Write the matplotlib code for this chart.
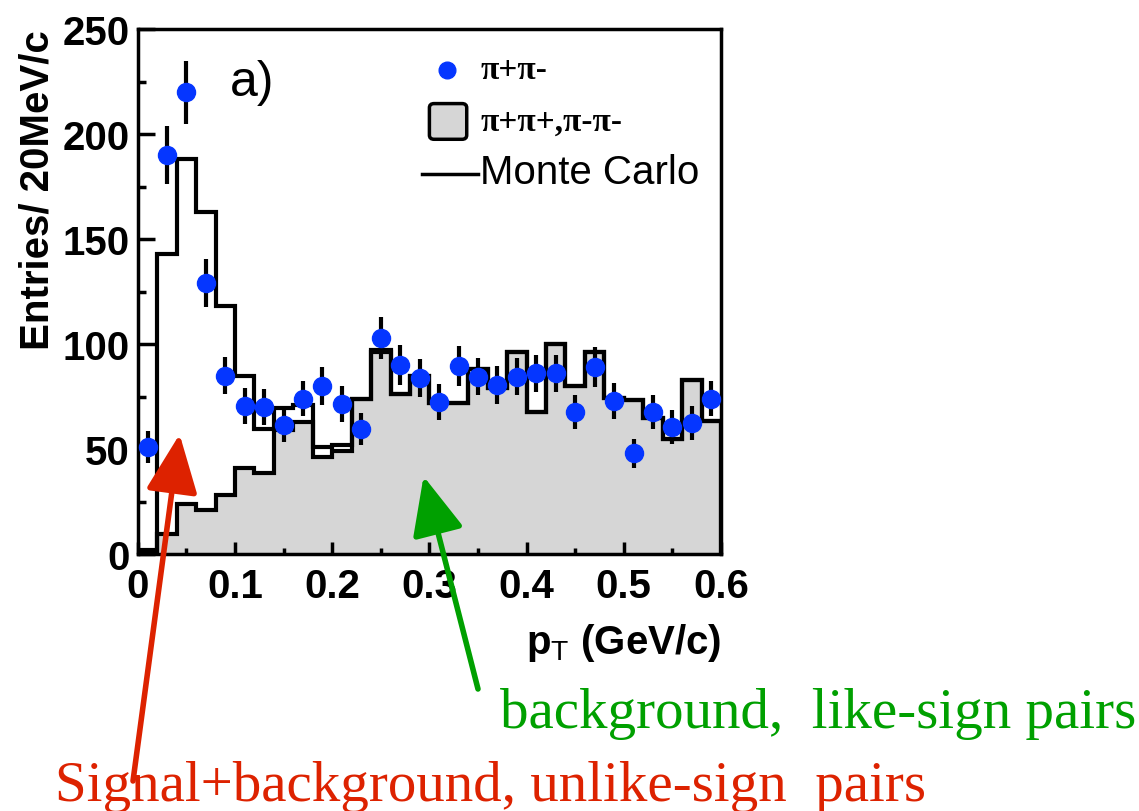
import numpy as np
import matplotlib
matplotlib.use("Agg")
import matplotlib.pyplot as plt
from matplotlib.lines import Line2D
from matplotlib.patches import FancyBboxPatch

# pT bins, 20 MeV/c wide
edges = np.linspace(0.0, 0.6, 31)

# like-sign pairs (grey histogram)
like_sign = [0, 9.5, 24, 21, 28, 41, 38.5, 59, 63, 46,
             49, 74, 96, 76, 85, 72, 72, 88, 79, 96,
             67.5, 100, 80, 96, 74.5, 73.5, 65, 55, 83, 63.5]

# Monte Carlo (black outline)
monte_carlo = [2, 143, 188, 163, 118, 85, 59.5, 69.5, 71, 51,
               52, 74, 97, 76, 85, 72, 72, 88, 79, 96,
               67.5, 100, 80, 96, 74.5, 73.5, 65, 55, 83, 63.5]

# unlike-sign pairs (data points)
pt_centres = [0.01, 0.03, 0.05, 0.07, 0.09, 0.11, 0.13, 0.15, 0.17, 0.19,
              0.21, 0.23, 0.25, 0.27, 0.29, 0.31, 0.33, 0.35, 0.37, 0.39,
              0.41, 0.43, 0.45, 0.47, 0.49, 0.51, 0.53, 0.55, 0.57, 0.59]
unlike_sign = [51, 190, 220, 129, 85, 70.5, 70, 61.5, 74, 80,
               71.5, 59.5, 103, 90, 84, 72.5, 89.5, 84.5, 80.5, 84.5,
               86, 86, 67.5, 89, 73, 48, 67.5, 60.5, 62.5, 74]
unlike_err = [7.5, 14, 15, 11.5, 9, 8.5, 8.5, 8, 8.5, 9,
              8.5, 7.5, 10, 9.5, 9, 8.5, 9.5, 9, 9, 9,
              9, 9, 8, 9.5, 8.5, 7, 8, 8, 8, 8.5]

BLUE = "#0536ff"
GREY = "#d6d6d6"
RED = "#dd2200"
GREEN = "#00a000"

plt.rcParams['font.family'] = ['Liberation Sans', 'DejaVu Sans']
plt.rcParams['mathtext.fontset'] = 'custom'
plt.rcParams['mathtext.rm'] = 'Liberation Sans'

fig = plt.figure(figsize=(11.39, 8.12), dpi=100)
ax = fig.add_axes([0.121, 0.3165, 0.512, 0.6465])

ax.stairs(like_sign, edges, fill=True, color=GREY, zorder=1)
ax.stairs(like_sign, edges, color="black", lw=3, baseline=0, zorder=2)
ax.stairs(monte_carlo, edges, color="black", lw=3, zorder=3)
ax.errorbar(pt_centres, unlike_sign, yerr=unlike_err, fmt="o", color=BLUE,
            ms=13, ecolor="black", elinewidth=3, capsize=0, zorder=4)

ax.set_xlim(0, 0.6)
ax.set_ylim(0, 250)
ax.set_xticks(np.arange(0, 0.61, 0.1))
ax.set_xticklabels(["0", "0.1", "0.2", "0.3", "0.4", "0.5", "0.6"])
ax.set_xticks(np.arange(0.05, 0.6, 0.1), minor=True)
ax.set_yticks(np.arange(0, 251, 50))
ax.set_yticks(np.arange(25, 250, 50), minor=True)
ax.tick_params(axis="both", which="both", direction="in", width=2.5,
               labelsize=29, top=False, right=False)
ax.tick_params(axis="y", which="major", length=12, pad=6)
ax.tick_params(axis="y", which="minor", length=6)
ax.tick_params(axis="x", which="major", length=9, pad=9)
ax.tick_params(axis="x", which="minor", length=4)
for lab in ax.get_xticklabels() + ax.get_yticklabels():
    lab.set_fontweight("bold")
for sp in ax.spines.values():
    sp.set_linewidth(2.5)

ax.set_ylabel("Entries/ 20MeV/c", fontsize=29, fontweight="bold", loc="top", labelpad=4)
ax.set_xlabel(r"p$_{\rm T}$ (GeV/c)", fontsize=29, fontweight="bold", loc="right", labelpad=12)

ax.text(0.158, 0.90, "a)", transform=ax.transAxes, fontsize=36, va="center", ha="left")

# legend drawn by hand
ax.add_line(Line2D([0.530], [0.922], transform=ax.transAxes, marker="o",
                   color=BLUE, ms=12, ls="none"))
ax.text(0.587, 0.922, "π+π-", transform=ax.transAxes, fontsize=24,
        family="Liberation Serif", fontweight="bold", va="center")
ax.add_patch(FancyBboxPatch((0.500, 0.790), 0.064, 0.068, transform=ax.transAxes,
                            boxstyle="round,pad=0,rounding_size=0.008",
                            facecolor=GREY, edgecolor="black", lw=2.5))
ax.text(0.587, 0.825, "π+π+,π-π-", transform=ax.transAxes, fontsize=24,
        family="Liberation Serif", fontweight="bold", va="center")
ax.add_line(Line2D([0.487, 0.583], [0.724, 0.724], transform=ax.transAxes,
                   color="black", lw=2.5))
ax.text(0.587, 0.728, "Monte Carlo", transform=ax.transAxes, fontsize=29, va="center")

# annotation arrows and captions
arrow_style = "-|>,head_length=0.9,head_width=0.4"
ax.annotate("", xy=(0.043, 57), xycoords="data",
            xytext=(133, 812 - 782), textcoords="figure pixels",
            arrowprops=dict(arrowstyle=arrow_style, mutation_scale=40,
                            color=RED, lw=4, shrinkA=0, shrinkB=0),
            annotation_clip=False)
ax.annotate("", xy=(0.294, 37), xycoords="data",
            xytext=(478, 812 - 690), textcoords="figure pixels",
            arrowprops=dict(arrowstyle=arrow_style, mutation_scale=40,
                            color=GREEN, lw=4, shrinkA=0, shrinkB=0),
            annotation_clip=False)

fig.text(500 / 1139, 1 - 728 / 812, "background,  like-sign pairs", color=GREEN,
         fontsize=41, family="Liberation Serif", va="baseline", ha="left")
fig.text(55 / 1139, 1 - 801 / 812, "Signal+background, unlike-sign  pairs", color=RED,
         fontsize=41, family="Liberation Serif", va="baseline", ha="left")

fig.savefig("out.png", dpi=100)
